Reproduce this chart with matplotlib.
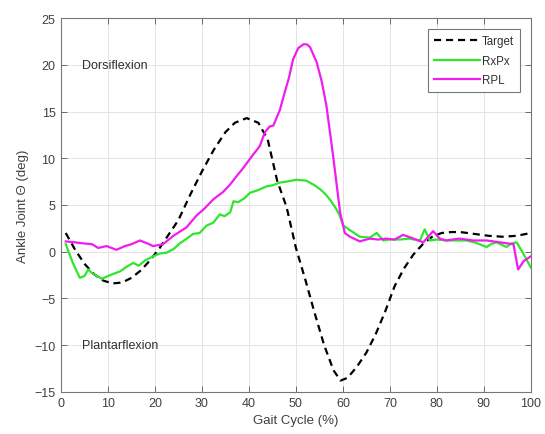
import matplotlib
matplotlib.use("Agg")
import matplotlib.pyplot as plt

# Gait cycle (%) and ankle joint angle (deg) for each trajectory
target_x = [1, 3, 5, 7, 9, 11, 13, 15, 17, 19,
            21, 23, 25, 27.5, 30, 32.5, 35, 37, 39.5, 42,
            44, 46, 48, 50, 52, 54, 56, 58, 59.5, 61,
            63, 65, 67, 69, 71, 73, 75, 77, 79, 81,
            83, 85, 88, 91, 94, 97, 100]
target_y = [2.0, 0.2, -1.3, -2.4, -3.1, -3.4, -3.3, -2.8, -2.0, -0.9,
            0.4, 1.9, 3.4, 6.1, 8.6, 10.9, 12.8, 13.8, 14.3, 13.8,
            12.0, 7.6, 4.8, 0.4, -3.0, -6.6, -10.0, -12.7, -13.8, -13.5,
            -12.3, -10.8, -8.8, -6.4, -3.7, -1.8, -0.3, 0.8, 1.6, 2.0,
            2.1, 2.1, 1.9, 1.7, 1.6, 1.7, 2.0]

rxpx_x = [1, 2.5, 4, 5, 5.8, 6.6, 8.7, 10.5, 12.6, 14,
          15.4, 16.5, 18, 19.6, 21, 22.5, 24, 25.3, 26.5, 28.1,
          29.5, 31, 32.4, 33.8, 34.8, 36, 36.7, 37.7, 39, 40.2,
          42, 43.8, 45, 46.6, 48, 50.1, 52.2, 54, 55.1, 56.2,
          57.2, 58.3, 59.2, 60.1, 61.5, 63.6, 65.7, 67.2, 68.6, 70,
          72.2, 74, 76.4, 77.4, 78.5, 80, 82, 84, 86.3, 88,
          89.1, 90.6, 91.5, 92.7, 94.8, 96, 97, 98.5, 100]
rxpx_y = [0.8, -1.2, -2.8, -2.6, -1.9, -2.3, -2.9, -2.5, -2.1, -1.6,
          -1.2, -1.5, -0.9, -0.5, -0.2, -0.1, 0.3, 0.9, 1.3, 1.9,
          2.0, 2.8, 3.1, 4.0, 3.8, 4.2, 5.4, 5.3, 5.7, 6.3,
          6.6, 7.0, 7.1, 7.4, 7.5, 7.7, 7.6, 7.1, 6.7, 6.2,
          5.6, 4.8, 4.0, 2.8, 2.3, 1.6, 1.5, 2.0, 1.2, 1.3,
          1.3, 1.4, 1.2, 2.4, 1.2, 1.3, 1.2, 1.2, 1.2, 1.0,
          0.8, 0.5, 0.8, 1.0, 0.5, 0.9, 1.0, -0.3, -1.7]

rpl_x = [1, 3, 4.5, 6.6, 7.9, 9.7, 11.8, 13.6, 15, 16.8,
         18.3, 19.6, 21.7, 23.9, 26.7, 28.9, 30.5, 32.4, 34.5, 36,
         37.4, 39, 40.6, 42.3, 43.4, 44.4, 45.2, 46.6, 47.3, 48.5,
         49.4, 50.5, 51.6, 52.3, 53, 54.4, 55.5, 56.5, 57.9, 59.4,
         60.4, 61.5, 63.6, 65.7, 67.5, 69.2, 71, 72.8, 74.5, 77.1,
         79.2, 80.6, 82, 84.8, 87.7, 90.6, 93.4, 96.3, 97.3, 98.5,
         100]
rpl_y = [1.1, 1.0, 0.9, 0.8, 0.4, 0.6, 0.2, 0.6, 0.8, 1.2,
         0.9, 0.6, 0.8, 1.7, 2.6, 3.9, 4.6, 5.6, 6.4, 7.2,
         8.1, 9.1, 10.2, 11.3, 12.8, 13.4, 13.5, 15.2, 16.5, 18.6,
         20.6, 21.8, 22.2, 22.2, 21.9, 20.3, 18.2, 15.6, 10.3, 4.2,
         2.0, 1.6, 1.1, 1.4, 1.3, 1.4, 1.3, 1.8, 1.5, 1.0,
         2.2, 1.4, 1.2, 1.4, 1.2, 1.2, 1.0, 0.8, -1.9, -1.0,
         -0.5]

series_labels = ["Target", "RxPx", "RPL"]
x_ticks = list(range(0, 101, 10))
y_ticks = list(range(-15, 26, 5))

plt.rcParams["font.family"] = ["Liberation Sans", "DejaVu Sans"]

fig = plt.figure(figsize=(5.45, 4.35), dpi=100)
ax = fig.add_axes([0.112, 0.097, 0.862, 0.859])

ax.plot(target_x, target_y, color="black", linestyle=(0, (3.2, 2.2)), lw=1.6,
        label=series_labels[0], zorder=3)
ax.plot(rxpx_x, rxpx_y, color="#2ee62e", lw=1.6, label=series_labels[1], zorder=4)
ax.plot(rpl_x, rpl_y, color="#f01cf0", lw=1.6, label=series_labels[2], zorder=5)

ax.set_xlim(0, 100)
ax.set_ylim(-15, 25)
ax.set_xticks(x_ticks)
ax.set_yticks(y_ticks)
ax.grid(True, color="#e4e4e4", lw=0.7)
ax.set_axisbelow(True)

ax.tick_params(direction="in", length=4, width=0.6, top=True, right=True,
               colors="#555555", labelsize=9, labelcolor="#404040", pad=4)
for sp in ax.spines.values():
    sp.set_color("#777777")
    sp.set_linewidth(0.8)

ax.set_xlabel("Gait Cycle (%)", fontsize=9.5, color="#404040", labelpad=3)
ax.set_ylabel("Ankle Joint Θ (deg)", fontsize=9.5, color="#404040", labelpad=4)

ax.text(4.5, 20, "Dorsiflexion", fontsize=9, color="#303030", va="center", ha="left")
ax.text(4.5, -10, "Plantarflexion", fontsize=9, color="#303030", va="center", ha="left")

leg = ax.legend(loc="upper right", bbox_to_anchor=(0.977, 0.971), borderaxespad=0,
                fontsize=8.3, handlelength=4.0, handletextpad=0.2, labelspacing=0.68,
                borderpad=0.5, fancybox=False, framealpha=1, edgecolor="#777777")
leg.get_frame().set_linewidth(0.8)
for t in leg.get_texts():
    t.set_color("#303030")

fig.savefig("out.png", dpi=100)
